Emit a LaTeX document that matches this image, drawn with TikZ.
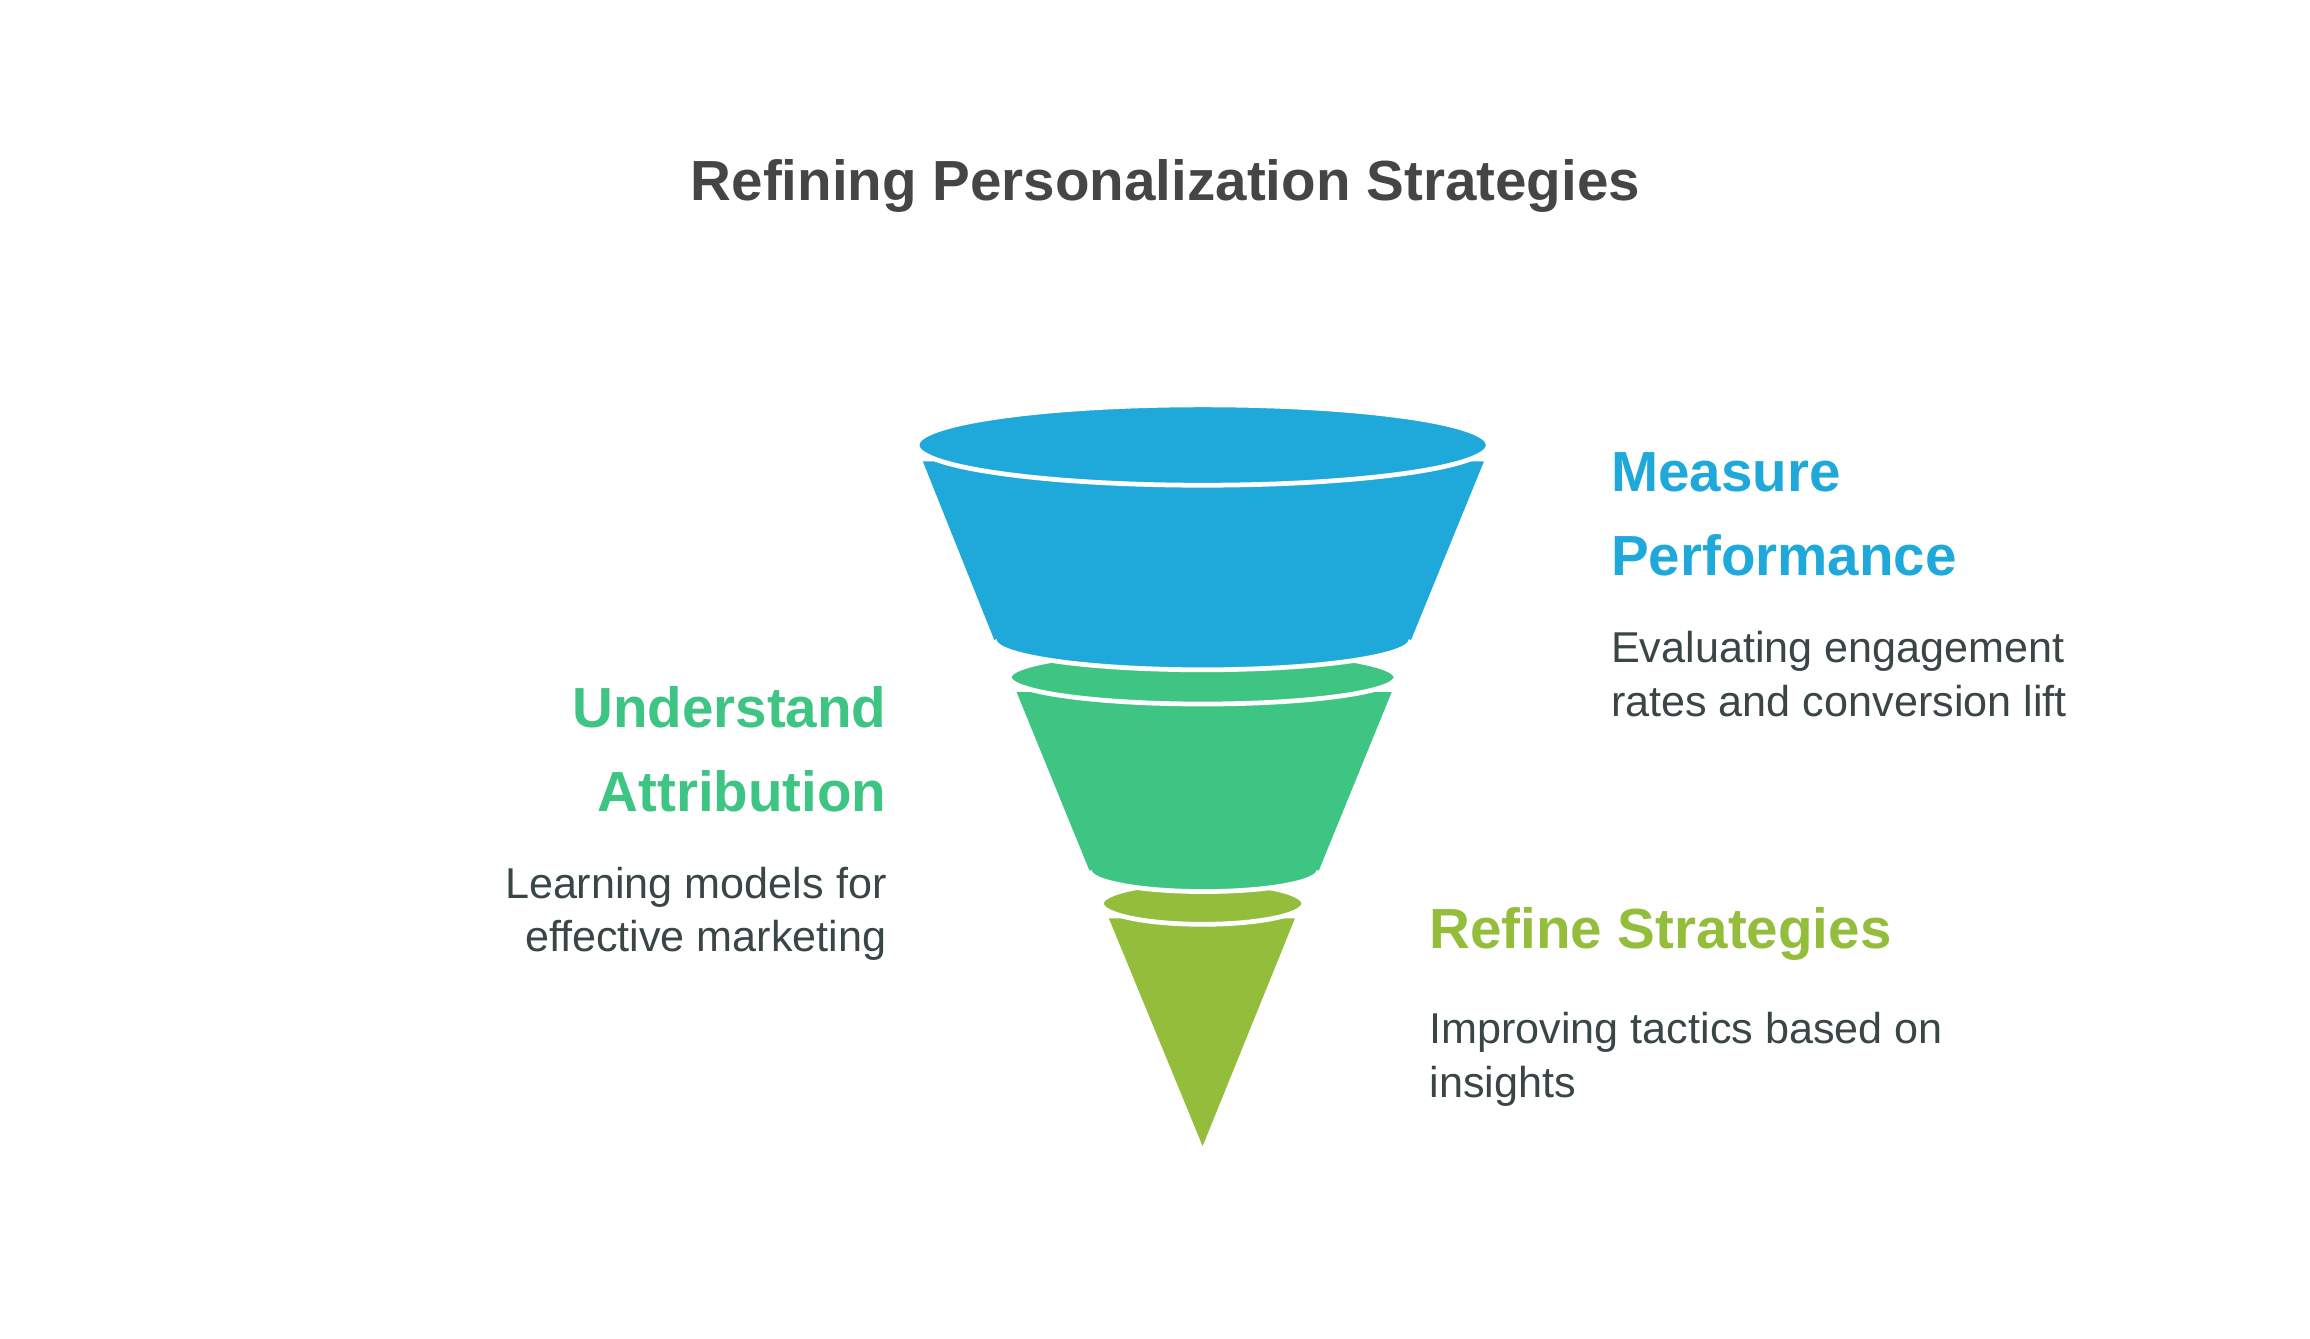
\documentclass[tikz,border=0pt]{standalone}
\usepackage{fontspec}
\setmainfont{Liberation Sans}
\definecolor{fBlue}{HTML}{1FA9DA}
\definecolor{fGreen}{HTML}{3EC483}
\definecolor{fOlive}{HTML}{93BD3A}
\definecolor{fText}{HTML}{3A4646}
\definecolor{fTitle}{HTML}{454545}
\begin{document}
\begin{tikzpicture}[x=0.5pt,y=-0.5pt]
		\tikzstyle{HEAD} = [font=\fontsize{19}{24}\selectfont\bfseries, inner sep=0pt]
		\tikzstyle{BODY} = [font=\fontsize{14.5}{18}\selectfont, text=fText, inner sep=0pt]
		\tikzstyle{rim} = [draw=white, line width=1.6pt]
		\useasboundingbox (0,0) rectangle (1552,899);

		% funnel, bottom up
		\fill[fOlive] (745,617) -- (808,770) -- (870,617) -- cycle;
		\filldraw[fOlive, rim] (808,607) ellipse (68 and 14);
		\fill[fGreen] (683,465) -- (732,585) arc (180:0:77 and 14) -- (935,465) -- cycle;
		\draw[rim] (732,585) arc (180:0:77 and 14);
		\filldraw[fGreen, rim] (808,455) ellipse (130 and 18);
		\fill[fBlue] (620,310) -- (668,430) arc (180:0:140 and 20) -- (997,310) -- cycle;
		\draw[rim] (668,430) arc (180:0:140 and 20);
		\filldraw[fBlue, rim] (808,299) ellipse (192 and 27);

		% texts
		\node[HEAD, text=fTitle, anchor=center] (title) at (783,125) {Refining Personalization Strategies};
		\node[HEAD, text=fBlue, anchor=north west, align=left] (hMeasure) at (1082,304) {Measure\\[4pt]Performance};
		\node[BODY, anchor=north west, align=left] (bMeasure) at (1082,424) {Evaluating engagement\\rates and conversion lift};
		\node[HEAD, text=fGreen, anchor=north east, align=right] (hAttrib) at (596,461) {Understand\\[4pt]Attribution};
		\node[BODY, anchor=north east, align=right] (bAttrib) at (596,582) {Learning models for\\effective marketing};
		\node[HEAD, text=fOlive, anchor=north west] (hRefine) at (960,609) {Refine Strategies};
		\node[BODY, anchor=north west, align=left] (bRefine) at (960,680) {Improving tactics based on\\insights};
\end{tikzpicture}
\end{document}
